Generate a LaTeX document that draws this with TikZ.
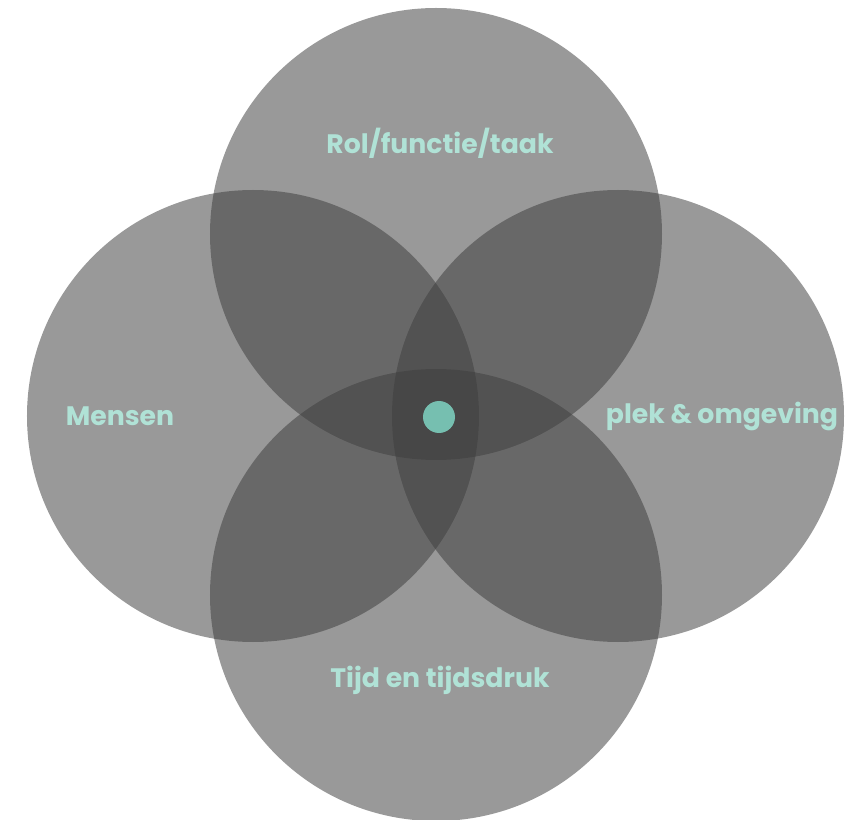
\documentclass[tikz,border=0pt]{standalone}
\usepackage{fontspec}
\setmainfont{Poppins}
\usetikzlibrary{positioning}
\definecolor{ringgray}{RGB}{62,62,62}
\definecolor{mintlabel}{RGB}{176,226,214}
\definecolor{mintdot}{RGB}{118,191,176}

\begin{document}
\begin{tikzpicture}[
  ring/.style={circle, draw=none, fill=ringgray, fill opacity=0.53,
               minimum size=9.04cm, inner sep=0pt},
  lab/.style={text=mintlabel, font=\bfseries\fontsize{15.2}{18}\selectfont, inner sep=0pt},
  hub/.style={circle, fill=mintdot, minimum size=6.4mm, inner sep=0pt}
]
\useasboundingbox (-8.72,-8.08) rectangle (8.4,8.32);
% ----- four overlapping circles -----
\node[ring] (rol)    at (0,3.64)  {};
\node[ring] (mensen) at (-3.66,0) {};
\node[ring] (plek)   at (3.64,0)  {};
\node[ring] (tijd)   at (0,-3.58) {};
% ----- labels -----
\node[lab] (lrol)    at (0.08,5.46)  {Rol/functie/taak};
\node[lab] (lmensen) at (-6.32,0)    {Mensen};
\node[lab] (lplek)   at (5.72,0)     {plek \& omgeving};
\node[lab] (ltijd)   at (0.08,-5.28) {Tijd en tijdsdruk};
% ----- centre -----
\node[hub] (kern) at (0.06,-0.02) {};
\end{tikzpicture}
\end{document}
